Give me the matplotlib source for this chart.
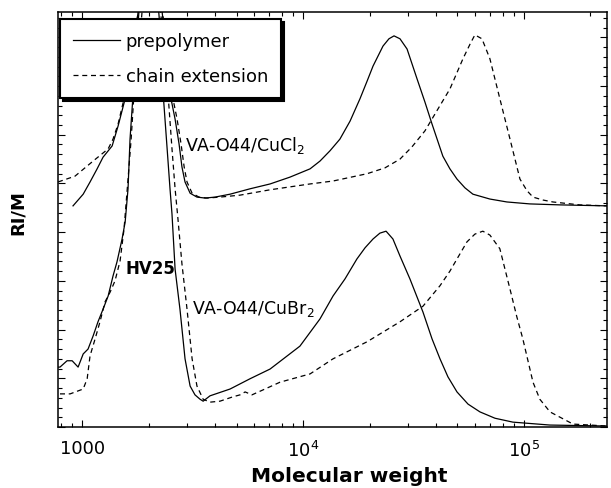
import numpy as np
import matplotlib
matplotlib.use('Agg')
import matplotlib.pyplot as plt
from matplotlib.ticker import (FixedLocator, FixedFormatter, LogLocator,
                               NullFormatter, MultipleLocator)

# ── data: log10(molecular weight) and RI/M (arbitrary units) ───────────
# upper pair: VA-O44/CuCl2
logm_pre_cl = [2.959, 3.005, 3.036, 3.068, 3.095, 3.136, 3.163, 3.195, 3.217, 3.240,
               3.262, 3.285, 3.308, 3.330, 3.353, 3.376, 3.398, 3.421, 3.439, 3.452,
               3.466, 3.489, 3.520, 3.557, 3.602, 3.670, 3.760, 3.851, 3.941, 4.032,
               4.077, 4.122, 4.167, 4.213, 4.258, 4.290, 4.317, 4.362, 4.389, 4.412,
               4.439, 4.471, 4.516, 4.552, 4.584, 4.633, 4.665, 4.697, 4.733, 4.769,
               4.846, 4.923, 5.027, 5.163, 5.376]
ri_pre_cl = [4.54, 4.78, 5.03, 5.30, 5.54, 5.77, 6.18, 6.74, 7.35, 8.07,
             8.79, 9.51, 9.92, 9.61, 8.89, 7.97, 6.84, 6.32, 5.81, 5.34,
             5.03, 4.80, 4.72, 4.70, 4.72, 4.78, 4.89, 4.99, 5.13, 5.30,
             5.46, 5.67, 5.91, 6.28, 6.74, 7.10, 7.41, 7.82, 7.97, 8.03,
             7.97, 7.76, 7.15, 6.67, 6.22, 5.56, 5.30, 5.09, 4.91, 4.78,
             4.68, 4.62, 4.58, 4.56, 4.54]

logm_ext_cl = [2.891, 2.968, 3.050, 3.118, 3.140, 3.163, 3.190, 3.217, 3.240, 3.262,
               3.285, 3.308, 3.330, 3.353, 3.380, 3.407, 3.430, 3.448, 3.462, 3.475,
               3.498, 3.529, 3.566, 3.624, 3.715, 3.851, 4.032, 4.136, 4.290, 4.371,
               4.439, 4.493, 4.552, 4.611, 4.665, 4.724, 4.756, 4.778, 4.810, 4.846,
               4.891, 4.937, 4.982, 5.014, 5.041, 5.086, 5.131, 5.253, 5.376]
ri_ext_cl = [5.03, 5.15, 5.46, 5.71, 5.91, 6.22, 6.74, 7.45, 8.07, 8.79,
             9.51, 9.92, 9.61, 8.89, 7.97, 6.84, 6.32, 5.81, 5.34, 5.03,
             4.80, 4.72, 4.70, 4.72, 4.76, 4.87, 4.99, 5.05, 5.20, 5.32,
             5.50, 5.75, 6.08, 6.53, 6.94, 7.56, 7.86, 8.05, 7.97, 7.56,
             6.74, 5.91, 5.09, 4.85, 4.72, 4.66, 4.62, 4.56, 4.54]

# lower pair: VA-O44/CuBr2
logm_pre_br = [2.891, 2.900, 2.932, 2.955, 2.982, 3.005, 3.027, 3.050, 3.072, 3.095,
               3.118, 3.140, 3.158, 3.181, 3.195, 3.208, 3.217, 3.231, 3.244, 3.262,
               3.281, 3.299, 3.321, 3.339, 3.353, 3.367, 3.385, 3.398, 3.407, 3.421,
               3.443, 3.466, 3.489, 3.511, 3.534, 3.548, 3.579, 3.670, 3.760, 3.851,
               3.986, 4.077, 4.136, 4.190, 4.244, 4.281, 4.317, 4.348, 4.376, 4.407,
               4.439, 4.484, 4.543, 4.584, 4.620, 4.656, 4.697, 4.747, 4.801, 4.869,
               4.950, 5.118, 5.376]
ri_pre_br = [1.23, 1.23, 1.36, 1.36, 1.23, 1.50, 1.60, 1.87, 2.16, 2.42,
             2.69, 3.10, 3.39, 3.86, 4.21, 4.89, 5.91, 6.84, 7.76, 8.79,
             9.51, 9.92, 9.71, 8.99, 8.17, 6.84, 5.71, 4.89, 4.37, 3.24,
             2.42, 1.40, 0.84, 0.66, 0.57, 0.53, 0.64, 0.78, 0.99, 1.19,
             1.66, 2.22, 2.69, 3.04, 3.45, 3.68, 3.86, 3.98, 4.02, 3.86,
             3.51, 3.04, 2.36, 1.81, 1.40, 1.03, 0.72, 0.47, 0.31, 0.18,
             0.10, 0.04, 0.02]

logm_ext_br = [2.900, 2.946, 3.005, 3.023, 3.036, 3.059, 3.081, 3.104, 3.127, 3.149,
               3.172, 3.190, 3.208, 3.222, 3.235, 3.258, 3.276, 3.294, 3.312, 3.330,
               3.348, 3.367, 3.389, 3.407, 3.421, 3.434, 3.452, 3.475, 3.498, 3.520,
               3.548, 3.579, 3.624, 3.683, 3.715, 3.738, 3.769, 3.828, 3.896, 4.032,
               4.136, 4.290, 4.439, 4.543, 4.620, 4.665, 4.697, 4.742, 4.778, 4.814,
               4.846, 4.891, 4.937, 4.968, 4.995, 5.041, 5.072, 5.118, 5.222, 5.376]
ri_ext_br = [0.68, 0.68, 0.78, 0.99, 1.46, 1.81, 2.16, 2.57, 2.77, 3.00,
             3.41, 4.07, 5.09, 5.91, 6.84, 7.76, 8.79, 9.51, 9.92, 9.61,
             8.89, 7.97, 6.84, 5.71, 4.89, 4.27, 3.35, 2.42, 1.40, 0.84,
             0.57, 0.51, 0.53, 0.62, 0.66, 0.72, 0.66, 0.78, 0.92, 1.09,
             1.40, 1.75, 2.16, 2.48, 2.90, 3.20, 3.45, 3.80, 3.96, 4.02,
             3.94, 3.66, 2.83, 2.26, 1.81, 0.92, 0.57, 0.31, 0.06, 0.02]

x_ticks = [1e3, 1e4, 1e5]
x_ticklabels = ['1000', '$10^4$', '$10^5$']
# ────────────────────────────────────────────────────────────────────────

LW = 0.9
DASH = (4, 3)

fig = plt.figure(figsize=(6.11, 4.89), dpi=100)
ax = fig.add_axes([58 / 611, 61 / 489, 549 / 611, 415 / 489])

m = lambda v: 10 ** np.asarray(v)

ax.plot(m(logm_pre_cl), ri_pre_cl, color='k', lw=LW, label='prepolymer')
ax.plot(m(logm_ext_cl), ri_ext_cl, color='k', lw=LW, dashes=DASH,
        label='chain extension')
ax.plot(m(logm_pre_br), ri_pre_br, color='k', lw=LW)
ax.plot(m(logm_ext_br), ri_ext_br, color='k', lw=LW, dashes=DASH)

ax.set_xscale('log')
ax.set_xlim(778, 2.377e5)
ax.set_ylim(0, 8.52)

ax.xaxis.set_major_locator(FixedLocator(x_ticks))
ax.xaxis.set_major_formatter(FixedFormatter(x_ticklabels))
ax.xaxis.set_minor_locator(LogLocator(base=10, subs=np.arange(2, 10)))
ax.xaxis.set_minor_formatter(NullFormatter())
ax.yaxis.set_major_locator(MultipleLocator(1))
ax.yaxis.set_minor_locator(MultipleLocator(0.2))
ax.set_yticklabels([])

ax.tick_params(which='both', direction='in', top=True, right=True, width=0.8)
ax.tick_params(which='major', length=5, labelsize=13, pad=9)
ax.tick_params(which='minor', length=3)
for spine in ax.spines.values():
    spine.set_linewidth(1.1)

ax.text(2925, 5.69, 'VA-O44/CuCl$_2$', fontsize=12.5, ha='left', va='baseline')
ax.text(1565, 3.16, 'HV25', fontsize=12, fontweight='bold', ha='left',
        va='baseline')
ax.text(3147, 2.34, 'VA-O44/CuBr$_2$', fontsize=12.5, ha='left', va='baseline')

leg = ax.legend(loc='upper left', bbox_to_anchor=(0.004, 0.983),
                borderaxespad=0, fontsize=13, fancybox=False,
                edgecolor='k', framealpha=1,
                shadow={'color': 'k', 'alpha': 1},
                handlelength=2.6, handletextpad=0.3, labelspacing=0.95,
                borderpad=0.72)
leg.get_frame().set_linewidth(1.5)
leg.set_zorder(5)

fig.text(18 / 611, 1 - 213 / 489, 'RI/M', rotation=90, ha='center',
         va='center', fontsize=13, fontweight='bold')
fig.text(349 / 611, 1 - 477 / 489, 'Molecular weight', ha='center',
         va='center', fontsize=14.5, fontweight='bold')

fig.savefig('out.png', dpi=100)
